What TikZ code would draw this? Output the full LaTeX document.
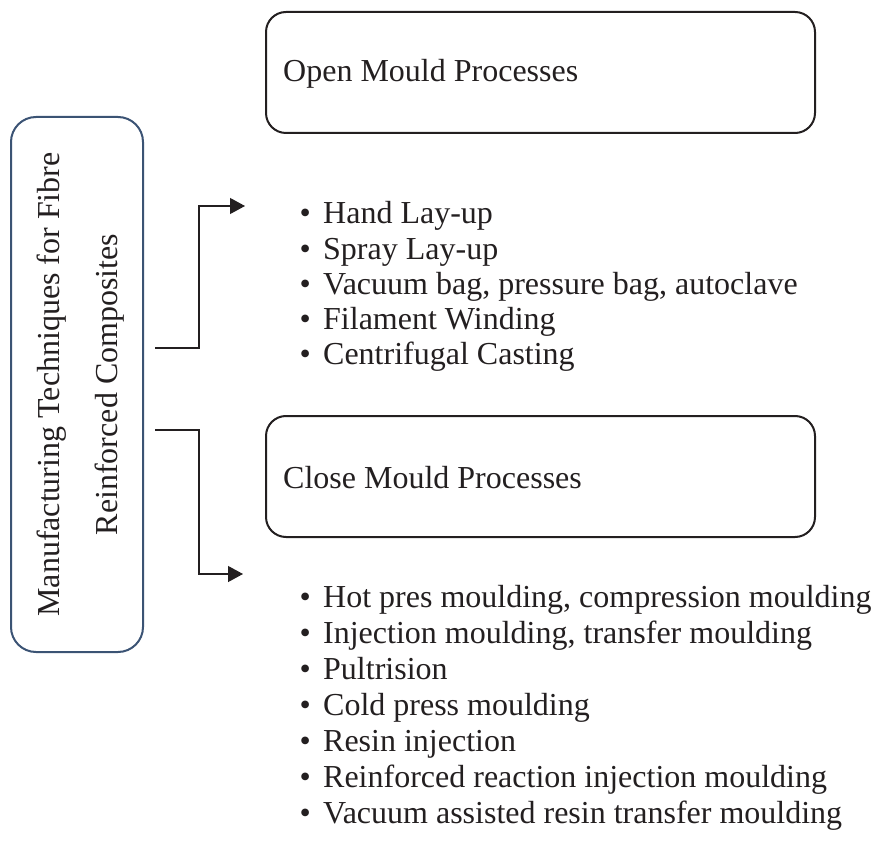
\documentclass[tikz,border=0pt]{standalone}
\usepackage{fontspec}
\setmainfont{Liberation Serif}
\usetikzlibrary{arrows.meta}
\definecolor{ink}{HTML}{231F20}
\definecolor{boxblue}{HTML}{3B5374}
\begin{document}
\begin{tikzpicture}[x=1pt,y=1pt,
  every node/.style={text=ink, font=\fontsize{32}{38}\selectfont},
  roundbox/.style={draw=ink, line width=2pt, rounded corners=20pt, minimum width=549pt, minimum height=121pt, inner sep=0pt},
  mainbox/.style={draw=boxblue, line width=2pt, rounded corners=25pt, minimum width=132pt, minimum height=535pt, inner sep=0pt},
  item/.style={anchor=base west, inner sep=0pt},
  conn/.style={draw=ink, line width=1.2pt},
  arr/.style={conn, -{Triangle[length=15pt,width=16pt]}},
]
\useasboundingbox (0,0) rectangle (874,855);
% main box
\node[mainbox] (main) at (77,470.5) {};
\node[rotate=90, align=center, inner sep=0pt, font=\fontsize{32}{58}\selectfont] (maintitle) at (81,470.5) {Manufacturing Techniques for Fibre\\Reinforced Composites};
% category boxes
\node[roundbox] (open) at (540.5,782.5) {};
\node[anchor=west, inner sep=0pt] (opentitle) at (283,781) {Open Mould Processes};
\node[roundbox] (close) at (540.5,378.5) {};
\node[anchor=west, inner sep=0pt] (closetitle) at (283,377) {Close Mould Processes};
% open list
\node[item] (o1) at (299.4,631) {\textbullet\hspace{12.4pt}Hand Lay-up};
\node[item] (o2) at (299.4,595.75) {\textbullet\hspace{12.4pt}Spray Lay-up};
\node[item] (o3) at (299.4,560.5) {\textbullet\hspace{12.4pt}Vacuum bag, pressure bag, autoclave};
\node[item] (o4) at (299.4,525.25) {\textbullet\hspace{12.4pt}Filament Winding};
\node[item] (o5) at (299.4,490) {\textbullet\hspace{12.4pt}Centrifugal Casting};
% close list
\node[item] (c1) at (299.4,248) {\textbullet\hspace{12.4pt}Hot pres moulding, compression moulding};
\node[item] (c2) at (299.4,212) {\textbullet\hspace{12.4pt}Injection moulding, transfer moulding};
\node[item] (c3) at (299.4,176) {\textbullet\hspace{12.4pt}Pultrision};
\node[item] (c4) at (299.4,140) {\textbullet\hspace{12.4pt}Cold press moulding};
\node[item] (c5) at (299.4,104) {\textbullet\hspace{12.4pt}Resin injection};
\node[item] (c6) at (299.4,68) {\textbullet\hspace{12.4pt}Reinforced reaction injection moulding};
\node[item] (c7) at (299.4,32) {\textbullet\hspace{12.4pt}Vacuum assisted resin transfer moulding};
% connectors
\coordinate (s1) at (155,507);
\coordinate (t1) at (245,649);
\coordinate (s2) at (155,425);
\coordinate (t2) at (243,281);
\draw[arr] (s1) -- ++(44,0) |- (t1);
\draw[arr] (s2) -- ++(44,0) |- (t2);
\end{tikzpicture}
\end{document}
